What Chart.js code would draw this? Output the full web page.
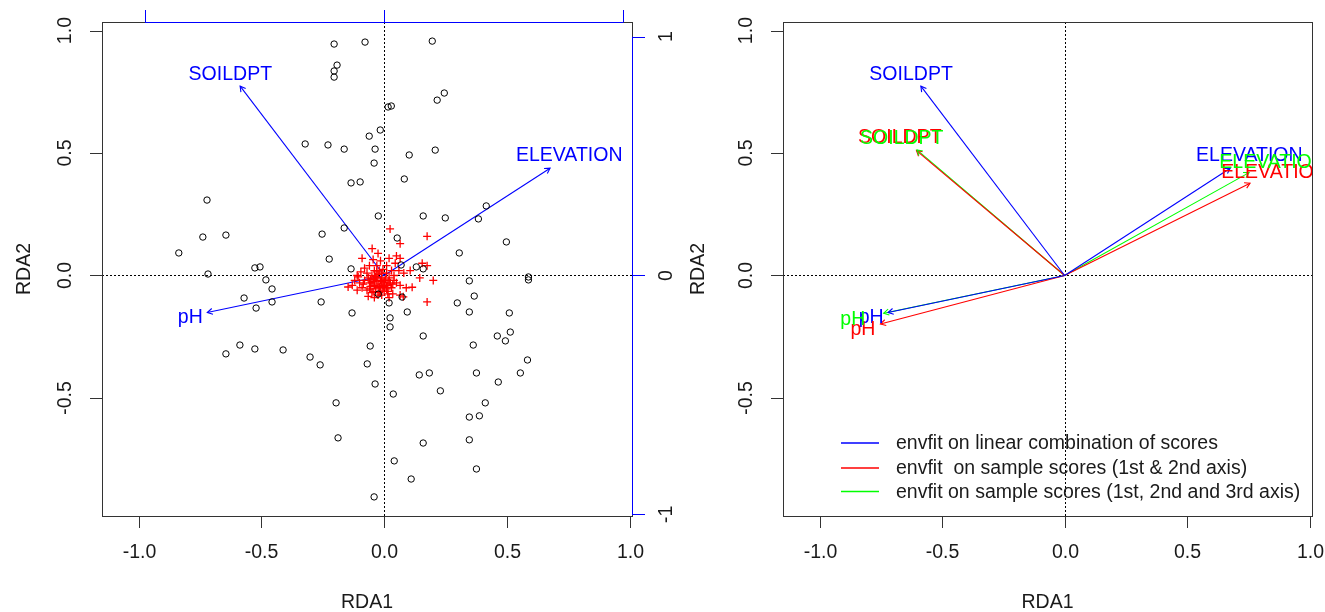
<!DOCTYPE html>
<html>
<head>
<meta charset="utf-8">
<script src="https://cdn.jsdelivr.net/npm/chart.js@4.4.0/dist/chart.umd.min.js"></script>
<style>
  html, body { margin: 0; padding: 0; background: #fff; }
  body { width: 1325px; height: 612px; position: relative; overflow: hidden; }
  canvas { position: absolute; top: 0; }
  #left { left: 0; }
  #right { left: 680px; }
</style>
</head>
<body>
<canvas id="left" width="700" height="612"></canvas>
<canvas id="right" width="645" height="612"></canvas>
<script>
// site scores (open circles)
const siteX = [-0.204,-0.078,-0.192,-0.204,-0.204,-0.322,-0.229,-0.163,-0.061,-0.135,
  -0.098,-0.722,-0.739,-0.645,-0.837,-0.253,-0.163,-0.224,-0.506,-0.527,
  -0.135,0.196,0.245,0.216,0.016,0.029,-0.016,-0.037,-0.041,0.102,
  0.208,0.082,-0.024,0.159,0.249,0.416,0.384,0.498,0.306,0.053,
  0.069,0.131,0.159,-0.718,-0.482,-0.457,-0.571,-0.457,-0.522,-0.257,
  -0.131,-0.645,-0.588,-0.527,-0.412,-0.302,-0.261,-0.196,-0.188,-0.069,
  -0.057,0.347,0.588,0.588,-0.024,0.073,0.020,0.367,0.298,0.347,
  0.094,0.510,0.024,0.024,0.159,0.461,0.514,0.494,0.363,0.584,
  0.143,0.184,0.376,0.555,-0.037,0.465,0.229,0.037,0.412,0.347,
  0.388,0.159,0.347,0.041,0.376,0.110,-0.041];
const siteY = [0.945,0.953,0.859,0.835,0.810,0.537,0.533,0.516,0.569,0.378,
  0.382,0.308,0.157,0.165,0.092,0.169,0.194,0.067,0.035,0.031,
  0.027,0.957,0.745,0.716,0.688,0.692,0.594,0.516,0.459,0.492,
  0.512,0.394,0.243,0.243,0.235,0.284,0.231,0.137,0.092,0.153,
  0.043,0.035,0.027,0.006,-0.018,-0.055,-0.092,-0.108,-0.133,-0.108,
  -0.153,-0.320,-0.284,-0.300,-0.304,-0.333,-0.365,-0.520,-0.663,-0.361,
  -0.288,-0.022,-0.006,-0.018,-0.076,-0.088,-0.112,-0.084,-0.112,-0.149,
  -0.149,-0.153,-0.173,-0.210,-0.247,-0.247,-0.231,-0.267,-0.284,-0.345,
  -0.406,-0.398,-0.398,-0.398,-0.443,-0.435,-0.471,-0.484,-0.520,-0.578,
  -0.573,-0.684,-0.671,-0.757,-0.790,-0.831,-0.904];

// species scores (red crosses)
const sppX = [0.024,0.175,0.065,-0.049,-0.025,0.065,-0.09,0.106,0.175,0.2,
  0.114,0.065,0.078,0.175,0.065,-0.13,-0.147,-0.106,0.145,0.155,
  -0.02,-0.01,0.0,-0.03,-0.05,-0.04,0.01,0.02,-0.06,-0.07,
  -0.08,-0.02,0.0,0.03,0.04,-0.03,-0.06,-0.1,-0.09,-0.05,
  0.01,0.03,0.05,-0.01,-0.04,0.02,-0.11,-0.12,0.06,-0.07,
  -0.015,-0.045,0.02,0.045,-0.08,-0.035,-0.025,-0.055,0.01,-0.015,
  0.035,-0.095,0.08,0.09,-0.065,-0.005,-0.04,0.015,-0.11,0.05,
  -0.01,-0.02,-0.03,0.005,0.015,-0.005,-0.045,-0.025,0.0,-0.035,
  -0.015,0.025,-0.055,-0.01,0.01,-0.03,-0.02,0.0,-0.04,0.02,
  -0.065,-0.05,0.035,-0.085,-0.06,0.04,-0.005,-0.025,0.015,-0.045];
const sppY = [0.19,0.16,0.13,0.11,0.09,0.07,0.07,0.02,0.04,-0.02,
  -0.048,-0.04,-0.087,-0.108,-0.08,-0.04,-0.047,-0.006,-0.01,0.05,
  0.02,-0.01,-0.03,-0.02,0.0,-0.04,0.01,-0.02,-0.03,0.01,
  -0.02,-0.05,-0.06,-0.05,0.0,0.04,0.04,-0.03,-0.05,-0.07,
  0.04,0.02,-0.03,-0.08,-0.09,-0.09,0.0,-0.02,0.02,-0.06,
  0.06,0.065,0.07,0.05,0.03,-0.005,-0.035,-0.015,-0.04,-0.02,
  -0.075,0.015,0.01,-0.05,-0.085,0.025,0.02,-0.065,-0.06,0.08,
  -0.025,-0.045,-0.01,-0.015,-0.035,-0.05,-0.025,0.005,-0.045,-0.055,
  -0.065,-0.03,-0.045,0.01,-0.055,0.015,-0.07,-0.02,-0.015,-0.01,
  -0.01,-0.03,-0.035,-0.035,-0.055,-0.02,-0.04,-0.08,-0.075,-0.065];

const envVars = ['SOILDPT', 'ELEVATION', 'pH'];
// envfit on linear combination scores (blue)
const lcX = [-0.587, 0.676, -0.721];
const lcY = [0.773, 0.438, -0.151];
const lcLabX = [-0.627, 0.754, -0.790];
const lcLabY = [0.822, 0.491, -0.172];
// envfit on sample scores, 1st & 2nd axis (red)
const wa2X = [-0.605, 0.757, -0.752];
const wa2Y = [0.510, 0.377, -0.198];
const wa2LabX = [-0.673, 0.857, -0.824];
const wa2LabY = [0.561, 0.418, -0.220];
// envfit on sample scores, 1st-3rd axis (green)
const wa3X = [-0.603, 0.753, -0.739];
const wa3Y = [0.513, 0.420, -0.154];
const wa3LabX = [-0.665, 0.849, -0.865];
const wa3LabY = [0.557, 0.460, -0.180];

const xTicks = [-1, -0.5, 0, 0.5, 1];
const yTicks = [-0.5, 0, 0.5, 1];
const sideTicks = [-1, 0, 1];
const legendLabels = [
  'envfit on linear combination of scores',
  'envfit  on sample scores (1st & 2nd axis)',
  'envfit on sample scores (1st, 2nd and 3rd axis)'
];
const legendColors = ['#0000ff', '#ff0000', '#00ff00'];

const FONT = '19.5px "Liberation Sans", Arial, sans-serif';
const INK = '#1a1a1a';

function arrowSets(list) {
  // one line dataset per arrow, from origin to arrow tip
  const out = [];
  list.forEach(s => {
    s.x.forEach((v, i) => {
      out.push({
        type: 'scatter',
        data: [{ x: 0, y: 0 }, { x: v, y: s.y[i] }],
        showLine: true,
        borderColor: s.color,
        borderWidth: 1.1,
        pointRadius: 0,
        arrow: true,
        labelText: envVars[i],
        labelX: s.lx[i],
        labelY: s.ly[i]
      });
    });
  });
  return out;
}

const rPlot = {
  id: 'rPlot',
  beforeDatasetsDraw(chart) {
    const { ctx, chartArea: a, scales } = chart;
    const x0 = Math.round(scales.x.getPixelForValue(0)) + 0.5;
    const y0 = Math.round(scales.y.getPixelForValue(0)) + 0.5;
    ctx.save();
    ctx.strokeStyle = '#000';
    ctx.lineWidth = 1;
    ctx.setLineDash([2, 2]);
    ctx.beginPath();
    ctx.moveTo(x0, a.top); ctx.lineTo(x0, a.bottom);
    ctx.moveTo(a.left, y0); ctx.lineTo(a.right, y0);
    ctx.stroke();
    ctx.restore();
  },
  afterDatasetsDraw(chart, args, opts) {
    const { ctx, chartArea: a, scales } = chart;
    const sx = scales.x, sy = scales.y;

    // arrow heads and labels, clipped to the plot region
    ctx.save();
    ctx.beginPath();
    ctx.rect(a.left, a.top, a.right - a.left, a.bottom - a.top);
    ctx.clip();
    chart.data.datasets.forEach((ds, i) => {
      if (!ds.arrow) return;
      const pts = chart.getDatasetMeta(i).data;
      const p0 = pts[0], p1 = pts[1];
      const ang = Math.atan2(p1.y - p0.y, p1.x - p0.x);
      const len = 6;
      ctx.strokeStyle = ds.borderColor;
      ctx.lineWidth = 1.1;
      ctx.beginPath();
      ctx.moveTo(p1.x - len * Math.cos(ang - Math.PI / 6), p1.y - len * Math.sin(ang - Math.PI / 6));
      ctx.lineTo(p1.x, p1.y);
      ctx.lineTo(p1.x - len * Math.cos(ang + Math.PI / 6), p1.y - len * Math.sin(ang + Math.PI / 6));
      ctx.stroke();
    });
    ctx.font = FONT;
    ctx.textAlign = 'center';
    ctx.textBaseline = 'middle';
    chart.data.datasets.forEach(ds => {
      if (!ds.arrow) return;
      ctx.fillStyle = ds.borderColor;
      ctx.fillText(ds.labelText, sx.getPixelForValue(ds.labelX), sy.getPixelForValue(ds.labelY));
    });
    ctx.restore();

    // box
    ctx.save();
    ctx.strokeStyle = '#333';
    ctx.lineWidth = 1;
    ctx.strokeRect(a.left + 0.5, a.top + 0.5, a.right - a.left, a.bottom - a.top);

    // bottom axis
    ctx.fillStyle = INK;
    ctx.font = FONT;
    ctx.textAlign = 'center';
    ctx.textBaseline = 'middle';
    ctx.beginPath();
    xTicks.forEach(t => {
      const px = Math.round(sx.getPixelForValue(t)) + 0.5;
      ctx.moveTo(px, a.bottom); ctx.lineTo(px, a.bottom + 12);
      ctx.fillText(t.toFixed(1), px, a.bottom + 37);
    });
    // left axis
    yTicks.forEach(t => {
      const py = Math.round(sy.getPixelForValue(t)) + 0.5;
      ctx.moveTo(a.left - 12, py); ctx.lineTo(a.left, py);
    });
    ctx.stroke();
    yTicks.forEach(t => {
      const py = sy.getPixelForValue(t);
      ctx.save();
      ctx.translate(a.left - 36, py);
      ctx.rotate(-Math.PI / 2);
      ctx.fillText(t.toFixed(1), 0, 0);
      ctx.restore();
    });
    // axis titles
    ctx.fillText('RDA1', (a.left + a.right) / 2, a.bottom + 87);
    ctx.save();
    ctx.translate(a.left - opts.yTitleGap, (a.top + a.bottom) / 2);
    ctx.rotate(-Math.PI / 2);
    ctx.fillText('RDA2', 0, 0);
    ctx.restore();

    // secondary blue axes (top and right)
    if (opts.sideAxes) {
      const s2x = scales.x2, s2y = scales.y2;
      ctx.strokeStyle = '#0000ff';
      ctx.beginPath();
      const tx0 = s2x.getPixelForValue(-1), tx1 = s2x.getPixelForValue(1);
      ctx.moveTo(tx0, a.top + 0.5); ctx.lineTo(tx1, a.top + 0.5);
      sideTicks.forEach(t => {
        const px = Math.round(s2x.getPixelForValue(t)) + 0.5;
        ctx.moveTo(px, a.top); ctx.lineTo(px, a.top - 12);
      });
      const rx = a.right + 0.5;
      ctx.moveTo(rx, s2y.getPixelForValue(1)); ctx.lineTo(rx, s2y.getPixelForValue(-1));
      sideTicks.forEach(t => {
        const py = Math.round(s2y.getPixelForValue(t)) + 0.5;
        ctx.moveTo(a.right, py); ctx.lineTo(a.right + 13, py);
      });
      ctx.stroke();
      ctx.fillStyle = INK;
      sideTicks.forEach(t => {
        ctx.save();
        ctx.translate(a.right + 35, s2y.getPixelForValue(t));
        ctx.rotate(-Math.PI / 2);
        ctx.fillText(String(t), 0, 0);
        ctx.restore();
      });
    }

    // legend
    if (opts.legend) {
      const lx = a.left + 58, tx = a.left + 113;
      const rows = [a.top + 421, a.top + 446, a.top + 469.5];
      ctx.textAlign = 'left';
      legendLabels.forEach((lab, i) => {
        ctx.strokeStyle = legendColors[i];
        ctx.lineWidth = 1.6;
        ctx.beginPath();
        ctx.moveTo(lx, rows[i]);
        ctx.lineTo(lx + 38, rows[i]);
        ctx.stroke();
        ctx.fillStyle = INK;
        ctx.fillText(lab, tx, rows[i] + 1);
      });
    }
    ctx.restore();
  }
};

const xMin = -1.15, xMax = 1.01, yMin = -0.982, yMax = 1.035;
const sideFactor = 0.975;

function baseScales(withSide) {
  const s = {
    x: { type: 'linear', min: xMin, max: xMax, display: false },
    y: { type: 'linear', min: yMin, max: yMax, display: false }
  };
  if (withSide) {
    s.x2 = { type: 'linear', min: xMin / sideFactor, max: xMax / sideFactor, display: false };
    s.y2 = { type: 'linear', min: yMin / sideFactor, max: yMax / sideFactor, display: false };
  }
  return s;
}

const commonPlugins = { legend: { display: false }, tooltip: { enabled: false } };

new Chart(document.getElementById('left'), {
  type: 'scatter',
  data: {
    datasets: [
      {
        data: siteX.map((v, i) => ({ x: v, y: siteY[i] })),
        pointStyle: 'circle',
        pointRadius: 3.2,
        borderColor: '#000',
        backgroundColor: 'rgba(0,0,0,0)',
        borderWidth: 1
      },
      {
        data: sppX.map((v, i) => ({ x: v, y: sppY[i] })),
        pointStyle: 'cross',
        pointRadius: 4,
        borderColor: '#ff0000',
        borderWidth: 1.3
      },
      ...arrowSets([{ color: '#0000ff', x: lcX, y: lcY, lx: lcLabX, ly: lcLabY }])
    ]
  },
  options: {
    responsive: false,
    animation: false,
    events: [],
    layout: { padding: { left: 102, top: 22, right: 68, bottom: 96 } },
    scales: baseScales(true),
    plugins: { ...commonPlugins, rPlot: { sideAxes: true, legend: false, yTitleGap: 77 } }
  },
  plugins: [rPlot]
});

new Chart(document.getElementById('right'), {
  type: 'scatter',
  data: {
    datasets: arrowSets([
      { color: '#0000ff', x: lcX, y: lcY, lx: lcLabX, ly: lcLabY },
      { color: '#ff0000', x: wa2X, y: wa2Y, lx: wa2LabX, ly: wa2LabY },
      { color: '#00ff00', x: wa3X, y: wa3Y, lx: wa3LabX, ly: wa3LabY }
    ])
  },
  options: {
    responsive: false,
    animation: false,
    events: [],
    layout: { padding: { left: 103, top: 22, right: 13, bottom: 96 } },
    scales: baseScales(false),
    plugins: { ...commonPlugins, rPlot: { sideAxes: false, legend: true, yTitleGap: 84 } }
  },
  plugins: [rPlot]
});
</script>
</body>
</html>
